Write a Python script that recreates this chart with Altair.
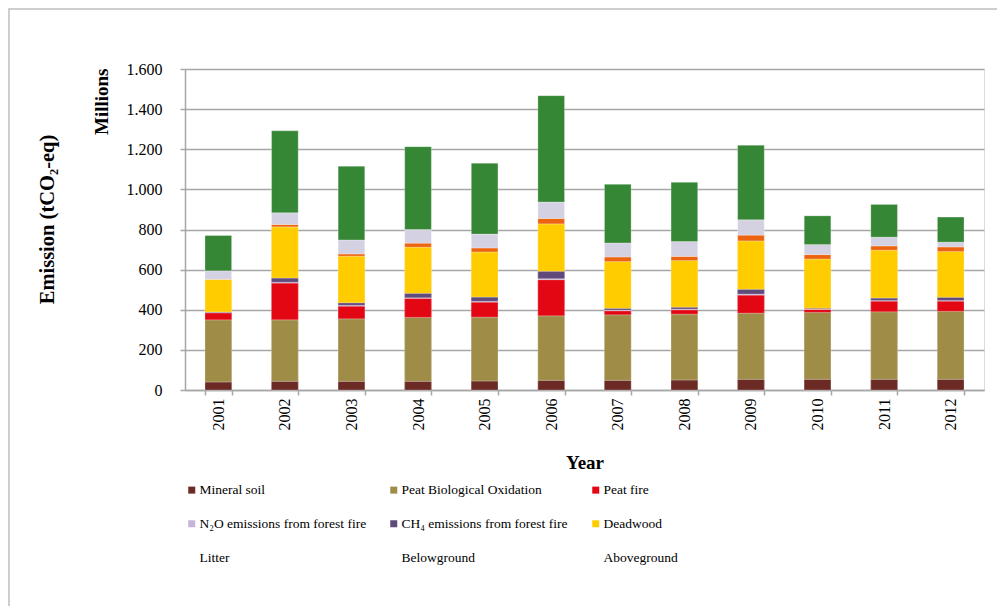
import altair as alt
import pandas as pd

years = ["2001", "2002", "2003", "2004", "2005", "2006", "2007", "2008", "2009", "2010", "2011", "2012"]

sources = [
    "Mineral soil",
    "Peat Biological Oxidation",
    "Peat fire",
    "N\u2082O emissions from forest fire",
    "CH\u2084 emissions from forest fire",
    "Deadwood",
    "Litter",
    "Belowground",
    "Aboveground",
]
# stacking order (bottom -> top)
stack_rank = [0, 1, 2, 3, 4, 5, 6, 7, 8]

bar_colors = ["#6B2A24", "#9E8C47", "#E30613", "#C7B5D9", "#604A7B", "#FFCC00", "#EC6410", "#D4D1E3", "#358735"]
legend_colors = ["#6B2A24", "#9E8C47", "#E30613", "#C7B5D9", "#604A7B", "#FFCC00", "transparent", "transparent", "transparent"]

# values in millions tCO2-eq
mineral_soil = [40, 43, 43, 43, 45, 48, 48, 50, 53, 53, 53, 53]
peat_bio_ox = [310, 307, 312, 319, 318, 322, 327, 328, 330, 334, 337, 339]
peat_fire = [35, 183, 63, 95, 75, 180, 20, 22, 90, 15, 53, 51]
n2o_fire = [1, 4, 4, 3, 4, 5, 3, 3, 5, 2, 3, 3]
ch4_fire = [3, 21, 13, 22, 21, 37, 9, 10, 24, 4, 12, 16]
deadwood = [162, 255, 232, 230, 225, 236, 233, 232, 241, 245, 239, 228]
litter = [1, 12, 11, 20, 20, 27, 23, 21, 29, 22, 21, 23]
belowground = [42, 58, 70, 68, 69, 82, 70, 74, 76, 50, 44, 24]
aboveground = [176, 409, 367, 413, 353, 530, 292, 295, 372, 143, 163, 125]

y_ticks = [0, 200, 400, 600, 800, 1000, 1200, 1400, 1600]

series = [mineral_soil, peat_bio_ox, peat_fire, n2o_fire, ch4_fire, deadwood, litter, belowground, aboveground]
rows = []
for name, rank, vals in zip(sources, stack_rank, series):
    for yr, v in zip(years, vals):
        rows.append({"Year": yr, "Source": name, "Value": v, "rank": rank})
df = pd.DataFrame(rows)

FONT = "Liberation Serif"
GRID = "#A6A6A6"

x_enc = alt.X(
    "Year:N",
    sort=years,
    scale=alt.Scale(paddingInner=0.6, paddingOuter=0.3),
    axis=alt.Axis(
        title="Year",
        labelAngle=270,
        labelFont=FONT,
        labelFontSize=16,
        labelColor="black",
        labelPadding=3,
        tickBand="extent",
        tickSize=5,
        tickColor=GRID,
        tickWidth=1.5,
        domainColor=GRID,
        domainWidth=1.5,
        grid=False,
        titleFont=FONT,
        titleFontSize=19,
        titleFontWeight="bold",
        titleColor="black",
        titleBaseline="alphabetic",
        titleY=78,
    ),
)
y_enc = alt.Y(
    "Value:Q",
    stack="zero",
    scale=alt.Scale(domain=[0, 1600], nice=False),
    axis=alt.Axis(
        title="Emission (tCO\u2082-eq)",
        values=y_ticks,
        format=",.0f",
        labelExpr="replace(datum.label, ',', '.')",
        labelFont=FONT,
        labelFontSize=16,
        labelColor="black",
        labelPadding=18,
        tickSize=5,
        tickColor=GRID,
        tickWidth=1.5,
        domainColor=GRID,
        domainWidth=1.5,
        grid=True,
        gridColor=GRID,
        gridWidth=1.5,
        titleFont=FONT,
        titleFontSize=20.5,
        titleFontWeight="bold",
        titleColor="black",
        titleAngle=270,
        titleBaseline="middle",
        titleX=-138,
        titleY=150,
    ),
)

base = alt.Chart(df)

legend_layer = base.mark_bar().encode(
    x=x_enc,
    y=y_enc,
    color=alt.Color(
        "Source:N",
        scale=alt.Scale(domain=sources, range=legend_colors),
        legend=alt.Legend(
            title=None,
            orient="none",
            direction="horizontal",
            legendX=0,
            legendY=414,
            columns=3,
            columnPadding=20,
            rowPadding=19,
            symbolType="square",
            symbolSize=49,
            symbolStrokeWidth=0,
            labelFont=FONT,
            labelFontSize=13.5,
            labelColor="black",
            labelOffset=1,
            labelLimit=400,
            gridAlign="all",
        ),
    ),
    order=alt.Order("rank:Q"),
)

bars = base.mark_bar(stroke="white", strokeOpacity=0.5, strokeWidth=0.5).encode(
    x=x_enc,
    y=y_enc,
    fill=alt.Fill("Source:N", scale=alt.Scale(domain=sources, range=bar_colors), legend=None),
    order=alt.Order("rank:Q"),
)

millions = alt.Chart(pd.DataFrame({"t": ["Millions"]})).mark_text(
    angle=270, align="left", baseline="middle", font=FONT, fontSize=19, fontWeight="bold", color="black"
).encode(x=alt.value(-83), y=alt.value(66), text="t:N")

frame = alt.Chart(pd.DataFrame({"t": ["frame"]})).mark_rect(
    filled=False, stroke="#BFBFBF", strokeWidth=1.5
).encode(x=alt.value(-176), x2=alt.value(900), y=alt.value(-60), y2=alt.value(700))

chart = (
    alt.layer(frame, legend_layer, bars, millions)
    .properties(
        width=799,
        height=321,
        autosize=alt.AutoSizeParams(type="none"),
        padding={"left": 177, "top": 61, "right": 13, "bottom": 216},
    )
    .configure_view(stroke=None)
    .configure(background="white")
)

chart.save("out.html", embed_options={"renderer": "svg", "actions": False})
